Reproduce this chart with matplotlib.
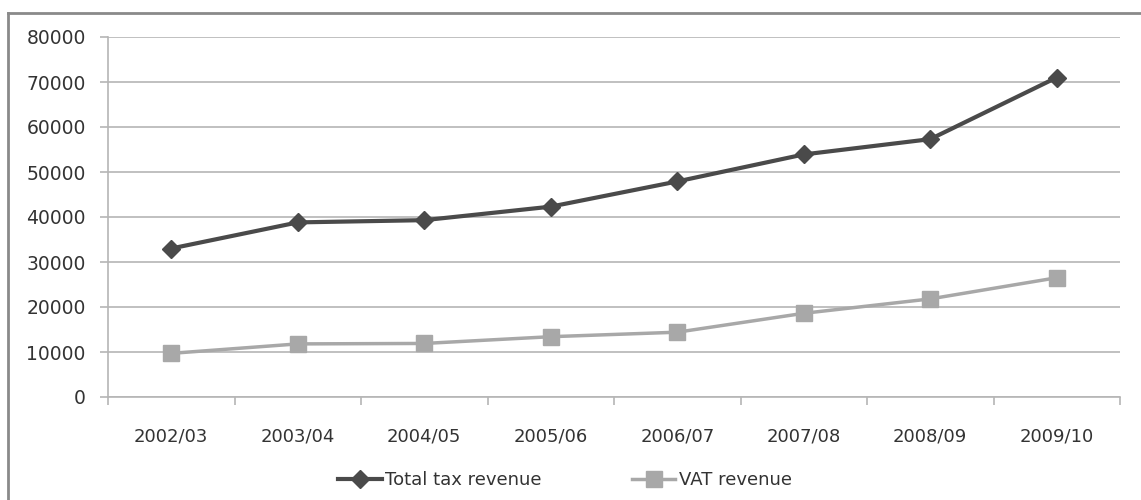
import matplotlib
matplotlib.use("Agg")
import matplotlib.pyplot as plt
from matplotlib.lines import Line2D

years = ['2002/03', '2003/04', '2004/05', '2005/06', '2006/07', '2007/08', '2008/09', '2009/10']
total_tax = [33000, 38800, 39300, 42300, 47900, 53900, 57300, 71000]
vat = [9700, 11800, 11900, 13400, 14400, 18600, 21800, 26500]

plt.rcParams['font.family'] = 'DejaVu Sans'
W, H = 1141, 500
fig = plt.figure(figsize=(W / 100, H / 100), dpi=100)
ax = fig.add_axes([108 / W, 1 - 397 / H, (1120 - 108) / W, (397 - 37) / H])

x = list(range(len(years)))
ax.plot(x, total_tax, color='#4a4a4a', lw=3, marker='D', ms=9,
        label='Total tax revenue', zorder=3)
ax.plot(x, vat, color='#a8a8a8', lw=2.5, marker='s', ms=11,
        label='VAT revenue', zorder=3)

ax.set_xlim(-0.5, len(years) - 0.5)
ax.set_ylim(0, 80000)
ax.set_yticks(range(0, 80001, 10000))
ax.grid(axis='y', color='#b5b5b5', lw=1.2)
ax.set_axisbelow(True)

ax.set_xticks(x)
ax.set_xticklabels(years)
ax.set_xticks([i - 0.5 for i in range(len(years) + 1)], minor=True)
ax.tick_params(axis='x', which='major', length=0, pad=22, labelsize=13, labelcolor='#333333')
ax.tick_params(axis='x', which='minor', length=6, color='#b5b5b5', width=1.2)
ax.tick_params(axis='y', length=6, color='#b5b5b5', width=1.2, pad=10,
               labelsize=13.5, labelcolor='#333333')

for side in ['top', 'right']:
    ax.spines[side].set_visible(False)
for side in ['left', 'bottom']:
    ax.spines[side].set_color('#b5b5b5')
    ax.spines[side].set_linewidth(1.2)

fig.legend(loc='center', bbox_to_anchor=(565 / W, 1 - 480 / H), ncol=2, frameon=False,
           fontsize=13, handlelength=2.4, handletextpad=0.2, columnspacing=5,
           labelcolor='#333333')

# outer chart border (only left and top visible in the crop)
fig.add_artist(Line2D([8 / W, 8 / W], [0, 1 - 12.5 / H], transform=fig.transFigure,
                      color='#8a8a8a', lw=2))
fig.add_artist(Line2D([8 / W, 1], [1 - 12.5 / H, 1 - 12.5 / H], transform=fig.transFigure,
                      color='#8a8a8a', lw=2))

fig.savefig('out.png', dpi=100)
